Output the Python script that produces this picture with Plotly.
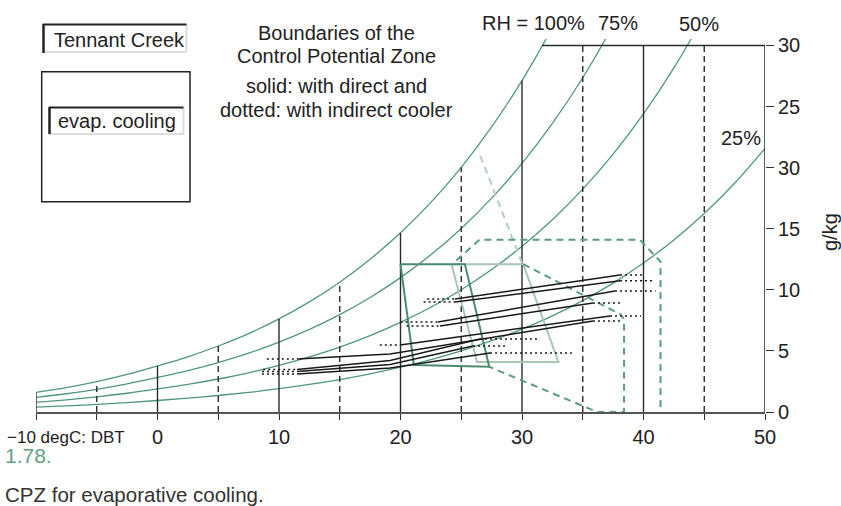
import plotly.graph_objects as go

# ---------------- data ----------------
# saturation moisture content (g/kg)
sat_T = [-10, -7.5, -5, -2.5, 0, 2.5, 5, 7.5, 10, 12.5, 15, 17.5, 20, 22.5, 25,
         27.5, 30, 32.5, 35, 37.5, 40, 42.5, 45, 47.5, 50]
sat_W = [1.60, 1.99, 2.48, 3.07, 3.77, 4.52, 5.40, 6.42, 7.62, 9.01, 10.62, 12.50,
         14.66, 17.15, 20.02, 23.33, 27.12, 31.48, 36.47, 42.20, 48.78, 56.31,
         64.95, 74.88, 86.29]
rh_levels = [1.0, 0.75, 0.5, 0.25]

grid_T = [-10, -5, 0, 5, 10, 15, 20, 25, 30, 35, 40, 45]
top_W = 30
top_start_T = 31.65

x_tickvals = [-10, -5, 0, 5, 10, 15, 20, 25, 30, 35, 40, 45, 50]
x_ticktext = ["", "", "0", "", "10", "", "20", "", "30", "", "40", "", "50"]
y_tickvals = [0, 5, 10, 15, 20, 25, 30]
y_ticktext = ["0", "5", "10", "15", "30", "25", "30"]

# CPZ with direct evaporative cooling (solid)
direct_T = [20.0, 25.3, 27.3, 21.1, 20.0]
direct_W = [12.1, 12.1, 3.7, 3.85, 12.1]
# CPZ light outline
light_T = [24.2, 30.1, 33.0, 26.3, 24.2]
light_W = [12.1, 12.1, 4.1, 4.1, 12.1]
light_ext_T = [30.0, 26.4]
light_ext_W = [12.2, 21.4]
# CPZ with indirect cooler (dashed)
indA_T = [24.6, 26.5, 39.7, 41.4, 41.4]
indA_W = [12.4, 14.1, 14.1, 12.3, 0]
indB_T = [30.1, 38.1, 38.4, 38.4, 36.2, 27.3]
indB_W = [12.1, 8.0, 7.6, 0, 0, 3.7]

# Tennant Creek monthly climate lines
month_T = [
    [24.49, 38.07],
    [24.49, 38.07],
    [23.09, 37.65],
    [23.25, 35.84],
    [19.96, 37.24],
    [11.48, 19.14, 35.84],
    [11.48, 19.14, 26.54],
    [11.48, 19.14, 25.97],
    [11.48, 19.14, 27.37],
]
month_W = [
    [9.25, 11.21],
    [9.00, 10.74],
    [7.36, 9.90],
    [7.04, 8.92],
    [5.48, 7.86],
    [4.34, 4.75, 7.45],
    [3.48, 4.21, 5.97],
    [3.31, 3.89, 5.40],
    [3.11, 3.60, 4.83],
]
dot_left_T = [22.2, 21.9, 20.0, 20.5, 18.3, 9.0, 8.7, 8.6, 8.6]
dot_right_T = [40.1, 40.8, 41.0, 38.2, 39.8, 38.2, 31.3, 28.6, 34.1]

# ---------------- layout geometry ----------------
FW, FH = 841, 506
ML, MR, MT, MB = 36, 76, 39, 94
PW = FW - ML - MR
PH = FH - MT - MB
YSCALE = 12.22
YMAX = PH / YSCALE


def px(x):
    return (x - ML) / PW


def py(y):
    return (FH - MB - y) / PH


FONT = "Liberation Sans, Arial, sans-serif"
TXT = "#222222"
GREEN = "#4f977b"
DARKLINE = "#2a2a2a"

fig = go.Figure()

# RH curves
for p in rh_levels:
    fig.add_trace(go.Scatter(x=sat_T, y=[p * w for w in sat_W], mode="lines",
                             line=dict(color=GREEN, width=1.3, shape="spline"),
                             hoverinfo="skip"))

# vertical DBT lines up to saturation (capped at 30)
sat_lookup = dict(zip(sat_T, sat_W))
sx, sy, dx, dy = [], [], [], []
for t in grid_T:
    h = min(sat_lookup[t], top_W)
    if t % 10 == 0:
        sx += [t, t, None]
        sy += [0, h, None]
    else:
        dx += [t, t, None]
        dy += [0, h, None]
fig.add_trace(go.Scatter(x=sx, y=sy, mode="lines", line=dict(color=DARKLINE, width=1.4),
                         hoverinfo="skip"))
fig.add_trace(go.Scatter(x=dx, y=dy, mode="lines",
                         line=dict(color=DARKLINE, width=1.4, dash="6px,4px"),
                         hoverinfo="skip"))
# top boundary and right axis line
fig.add_trace(go.Scatter(x=[top_start_T, 50, 50], y=[top_W, top_W, 0], mode="lines",
                         line=dict(color=DARKLINE, width=1.5), hoverinfo="skip"))

# CPZ shapes
fig.add_trace(go.Scatter(x=light_T, y=light_W, mode="lines",
                         line=dict(color="#a8c5b5", width=2), hoverinfo="skip"))
fig.add_trace(go.Scatter(x=light_ext_T, y=light_ext_W, mode="lines",
                         line=dict(color="#b3cdbf", width=2, dash="7px,5px"), hoverinfo="skip"))
fig.add_trace(go.Scatter(x=indA_T, y=indA_W, mode="lines",
                         line=dict(color="#5b9c83", width=2, dash="7px,5px"), hoverinfo="skip"))
fig.add_trace(go.Scatter(x=indB_T, y=indB_W, mode="lines",
                         line=dict(color="#5b9c83", width=2, dash="7px,5px"), hoverinfo="skip"))
fig.add_trace(go.Scatter(x=direct_T, y=direct_W, mode="lines",
                         line=dict(color="#4a8c6d", width=2), hoverinfo="skip"))

# climate lines
for i in range(len(month_T)):
    ts, ws = month_T[i], month_W[i]
    fig.add_trace(go.Scatter(x=ts, y=ws, mode="lines",
                             line=dict(color="#1a1a1a", width=1.5), hoverinfo="skip"))
    fig.add_trace(go.Scatter(x=[dot_left_T[i], ts[0], None, ts[-1], dot_right_T[i]],
                             y=[ws[0], ws[0], None, ws[-1], ws[-1]], mode="lines",
                             line=dict(color="#1a1a1a", width=1.4, dash="2px,3px"),
                             hoverinfo="skip"))

ann = []


def text(s, x, y, size=20, xanchor="center", color=TXT, family=FONT, angle=0):
    ann.append(dict(text=s, x=px(x), y=py(y), xref="paper", yref="paper",
                    xanchor=xanchor, yanchor="middle", showarrow=False,
                    textangle=angle, font=dict(size=size, color=color, family=family)))


text("Tennant Creek", 52, 39.5, xanchor="left")
text("evap. cooling", 56, 120.5, xanchor="left")
text("Boundaries of the", 336, 32.5)
text("Control Potential Zone", 336, 56)
text("solid: with direct and", 336, 85.5)
text("dotted: with indirect cooler", 336, 109.5)
text("RH = 100%", 480, 22.5, xanchor="left")
text("75%", 596, 22.5, xanchor="left")
text("50%", 677, 23.5, xanchor="left")
text("25%", 763, 138, xanchor="right")
text("g/kg", 830, 232, angle=-90)
text("\u221210 degC: DBT", 5, 437, size=17, xanchor="left")
text("1.78.", 3, 455, size=21, xanchor="left", color="#5f9f87")
text("CPZ for evaporative cooling.", 3, 494, size=20.5, xanchor="left", color="#333333")

shapes = []


def seg(x0, y0, x1, y1, color, width):
    shapes.append(dict(type="line", xref="paper", yref="paper",
                       x0=px(x0), y0=py(y0), x1=px(x1), y1=py(y1),
                       line=dict(color=color, width=width)))


# Tennant Creek label frame
seg(186.5, 24.5, 186.5, 52, "#dddddd", 2)
seg(43, 52, 186.5, 52, "#dddddd", 2)
seg(43.5, 24, 43.5, 53, "#222222", 2.5)
seg(43, 24.5, 186.5, 24.5, "#222222", 2)
# outer box
shapes.append(dict(type="rect", xref="paper", yref="paper",
                   x0=px(41.7), y0=py(201.7), x1=px(190), y1=py(71.7),
                   line=dict(color="#222222", width=1.5)))
# evap. cooling label frame
seg(183.5, 107.5, 183.5, 134, "#dddddd", 2)
seg(49, 134, 183.5, 134, "#dddddd", 2)
seg(49.5, 107, 49.5, 134, "#222222", 2.5)
seg(49, 107.5, 183.5, 107.5, "#222222", 2)

fig.update_layout(
    width=FW, height=FH,
    margin=dict(l=ML, r=MR, t=MT, b=MB, autoexpand=False),
    paper_bgcolor="white", plot_bgcolor="white",
    showlegend=False,
    annotations=ann, shapes=shapes,
    font=dict(family=FONT, color=TXT, size=20),
    xaxis=dict(range=[-10, 50], showgrid=False, zeroline=False,
               showline=True, linecolor="#555555", linewidth=1.5,
               ticks="outside", ticklen=6, tickwidth=1.4, tickcolor="#333333",
               tickvals=x_tickvals, ticktext=x_ticktext, automargin=False,
               tickfont=dict(size=20, family=FONT, color=TXT)),
    yaxis=dict(range=[0, YMAX], side="right", showgrid=False, zeroline=False,
               showline=False, ticks="outside", ticklen=8, tickwidth=1.4,
               tickcolor="#333333", tickvals=y_tickvals, ticktext=y_ticktext,
               automargin=False,
               tickfont=dict(size=20, family=FONT, color=TXT)),
)

fig.write_html("out.html", config={"displayModeBar": False},
               post_script="document.body.style.margin='0';document.body.style.overflow='hidden';")
